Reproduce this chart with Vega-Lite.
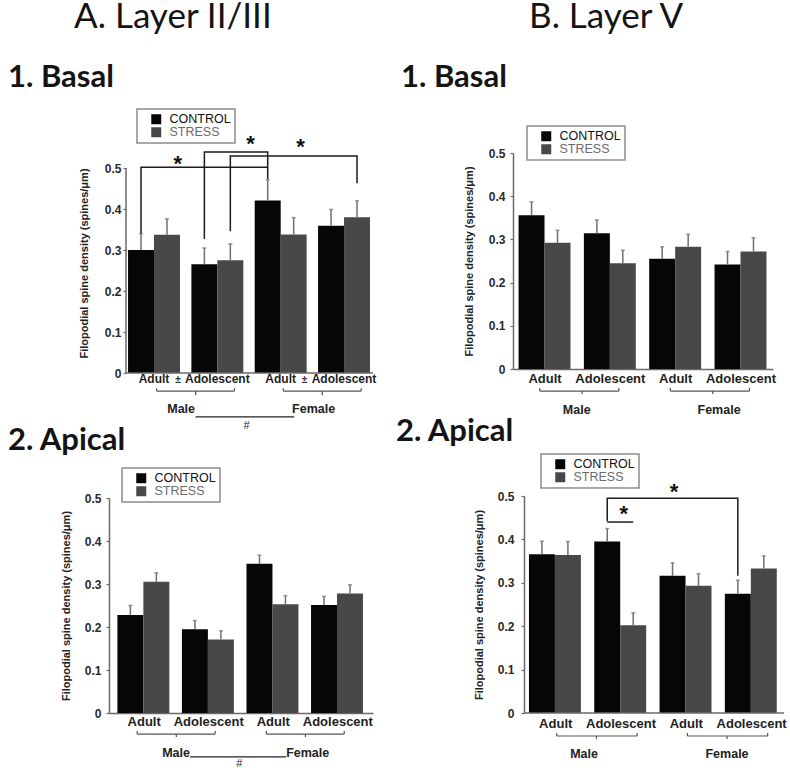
{
  "$schema": "https://vega.github.io/schema/vega-lite/v6.json",
  "padding": {"left": 8, "top": 0, "right": 0, "bottom": 0},
  "columns": 2,
  "align": "none",
  "spacing": 20,
  "resolve": {"scale": {"color": "independent"}, "legend": {"color": "independent"}},
  "datasets": {
    "a1": [
      {"group": "Male Adult", "cond": "CONTROL", "mean": 0.300, "upper": 0.340},
      {"group": "Male Adult", "cond": "STRESS", "mean": 0.337, "upper": 0.376},
      {"group": "Male Adolescent", "cond": "CONTROL", "mean": 0.265, "upper": 0.305},
      {"group": "Male Adolescent", "cond": "STRESS", "mean": 0.275, "upper": 0.315},
      {"group": "Female Adult", "cond": "CONTROL", "mean": 0.421, "upper": 0.471},
      {"group": "Female Adult", "cond": "STRESS", "mean": 0.338, "upper": 0.379},
      {"group": "Female Adolescent", "cond": "CONTROL", "mean": 0.359, "upper": 0.399},
      {"group": "Female Adolescent", "cond": "STRESS", "mean": 0.380, "upper": 0.420}
    ],
    "b1": [
      {"group": "Male Adult", "cond": "CONTROL", "mean": 0.356, "upper": 0.387},
      {"group": "Male Adult", "cond": "STRESS", "mean": 0.292, "upper": 0.321},
      {"group": "Male Adolescent", "cond": "CONTROL", "mean": 0.314, "upper": 0.345},
      {"group": "Male Adolescent", "cond": "STRESS", "mean": 0.245, "upper": 0.275},
      {"group": "Female Adult", "cond": "CONTROL", "mean": 0.255, "upper": 0.283},
      {"group": "Female Adult", "cond": "STRESS", "mean": 0.283, "upper": 0.312},
      {"group": "Female Adolescent", "cond": "CONTROL", "mean": 0.242, "upper": 0.272},
      {"group": "Female Adolescent", "cond": "STRESS", "mean": 0.272, "upper": 0.304}
    ],
    "a2": [
      {"group": "Male Adult", "cond": "CONTROL", "mean": 0.228, "upper": 0.250},
      {"group": "Male Adult", "cond": "STRESS", "mean": 0.305, "upper": 0.326},
      {"group": "Male Adolescent", "cond": "CONTROL", "mean": 0.195, "upper": 0.215},
      {"group": "Male Adolescent", "cond": "STRESS", "mean": 0.171, "upper": 0.191},
      {"group": "Female Adult", "cond": "CONTROL", "mean": 0.347, "upper": 0.367},
      {"group": "Female Adult", "cond": "STRESS", "mean": 0.253, "upper": 0.273},
      {"group": "Female Adolescent", "cond": "CONTROL", "mean": 0.251, "upper": 0.271},
      {"group": "Female Adolescent", "cond": "STRESS", "mean": 0.278, "upper": 0.298}
    ],
    "b2": [
      {"group": "Male Adult", "cond": "CONTROL", "mean": 0.366, "upper": 0.396},
      {"group": "Male Adult", "cond": "STRESS", "mean": 0.364, "upper": 0.395},
      {"group": "Male Adolescent", "cond": "CONTROL", "mean": 0.395, "upper": 0.425},
      {"group": "Male Adolescent", "cond": "STRESS", "mean": 0.202, "upper": 0.231},
      {"group": "Female Adult", "cond": "CONTROL", "mean": 0.316, "upper": 0.346},
      {"group": "Female Adult", "cond": "STRESS", "mean": 0.293, "upper": 0.321},
      {"group": "Female Adolescent", "cond": "CONTROL", "mean": 0.275, "upper": 0.306},
      {"group": "Female Adolescent", "cond": "STRESS", "mean": 0.333, "upper": 0.362}
    ],
    "a1br": [
      {"bracket": 1, "k": 1, "group": "Male Adult", "cond": "CONTROL", "level": 0.341},
      {"bracket": 1, "k": 2, "group": "Male Adult", "cond": "CONTROL", "level": 0.502},
      {"bracket": 1, "k": 3, "group": "Female Adult", "cond": "CONTROL", "level": 0.502},
      {"bracket": 2, "k": 1, "group": "Male Adolescent", "cond": "CONTROL", "level": 0.327},
      {"bracket": 2, "k": 2, "group": "Male Adolescent", "cond": "CONTROL", "level": 0.539},
      {"bracket": 2, "k": 3, "group": "Female Adult", "cond": "CONTROL", "level": 0.539},
      {"bracket": 2, "k": 4, "group": "Female Adult", "cond": "CONTROL", "level": 0.473},
      {"bracket": 3, "k": 1, "group": "Male Adolescent", "cond": "STRESS", "level": 0.346},
      {"bracket": 3, "k": 2, "group": "Male Adolescent", "cond": "STRESS", "level": 0.529},
      {"bracket": 3, "k": 3, "group": "Female Adolescent", "cond": "STRESS", "level": 0.529},
      {"bracket": 3, "k": 4, "group": "Female Adolescent", "cond": "STRESS", "level": 0.463}
    ],
    "b2br": [
      {"bracket": 1, "k": 1, "group": "Male Adolescent", "cond": "CONTROL", "level": 0.442},
      {"bracket": 1, "k": 2, "group": "Male Adolescent", "cond": "CONTROL", "level": 0.495},
      {"bracket": 1, "k": 3, "group": "Female Adolescent", "cond": "CONTROL", "level": 0.495},
      {"bracket": 1, "k": 4, "group": "Female Adolescent", "cond": "CONTROL", "level": 0.316},
      {"bracket": 2, "k": 1, "group": "Male Adolescent", "cond": "CONTROL", "level": 0.440},
      {"bracket": 2, "k": 2, "group": "Male Adolescent", "cond": "STRESS", "level": 0.440}
    ],
    "braces": [
      {"a": "Male Adult", "b": "Male Adolescent", "sex": "Male"},
      {"a": "Female Adult", "b": "Female Adolescent", "sex": "Female"}
    ],
    "yline": [{"lo": 0, "hi": 0.5}],
    "star": [{"t": "*"}],
    "male": [{"sex": "Male"}],
    "female": [{"sex": "Female"}],
    "hash": [{"sig": "#"}]
  },
  "concat": [
    {
      "title": {"text": "A. Layer II/III", "fontSize": 35, "fontWeight": "normal", "dx": -35, "offset": 27},
      "columns": 1,
      "align": "none",
      "spacing": -7,
      "resolve": {"scale": {"color": "independent"}, "legend": {"color": "independent"}},
      "concat": [
        {
          "width": 264, "height": 220,
          "title": {"text": "1. Basal", "dx": -101, "offset": 14},
          "layer": [
            {"data": {"name": "a1"}, "mark": {"type": "bar"},
             "encoding": {
               "x": {"field": "group", "type": "nominal",
                     "scale": {"domain": ["Male Adult", "Male Adolescent", "Female Adult", "Female Adolescent"], "paddingInner": 0.18, "paddingOuter": 0.174, "align": 0.864},
                     "axis": {"title": null, "domain": false, "labelExpr": "split(datum.label, ' ')[1]", "labelAngle": 0, "labelFont": "Liberation Sans", "labelFontSize": 12, "labelFontWeight": "bold", "labelColor": "#1e1e1e", "labelPadding": 0, "ticks": false, "labelOverlap": false}},
               "xOffset": {"field": "cond", "type": "nominal", "scale": {"domain": ["CONTROL", "STRESS"], "paddingInner": 0, "paddingOuter": 0}},
               "y": {"field": "mean", "type": "quantitative", "scale": {"domain": [0, 0.5366], "nice": false},
                     "axis": {"title": "Filopodial spine density (spines/μm)", "offset": -17, "values": [0, 0.1, 0.2, 0.3, 0.4, 0.5], "format": "~g", "domain": false, "labelFont": "Liberation Sans", "labelFontSize": 12, "labelFontWeight": "bold", "labelColor": "#2a2a2a", "labelPadding": 2, "tickSize": 3, "tickColor": "#6a6a6a", "tickWidth": 1.2, "titleFont": "Liberation Sans", "titleFontSize": 11, "titleFontWeight": "bold", "titleColor": "#222222", "titlePadding": 15}},
               "color": {"field": "cond", "type": "nominal", "scale": {"domain": ["CONTROL", "STRESS"], "range": ["#060606", "#484848"]},
                         "legend": {"title": null, "orient": "none", "legendX": 28, "legendY": -44, "direction": "vertical", "symbolType": "square", "symbolSize": 100, "symbolStrokeWidth": 0, "labelFont": "Liberation Sans", "labelFontSize": 12.5, "labelColor": "#111111", "labelOffset": 7, "symbolOffset": 9, "padding": 4, "rowPadding": 0, "strokeColor": "#8c8c8c", "fillColor": "#ffffff",
                                    "encode": {"labels": {"update": {"fill": {"signal": "datum.value === 'STRESS' ? '#6b6b6b' : '#111111'"}}}, "legend": {"update": {"strokeWidth": {"value": 1.5}}}}}}
             }},
            {"data": {"name": "yline"}, "mark": {"type": "rule", "color": "#6a6a6a", "strokeWidth": 1.5},
             "encoding": {"x": {"datum": "Male Adult", "type": "nominal", "bandPosition": -0.039}, "y": {"field": "lo", "type": "quantitative"}, "y2": {"field": "hi"}}},
            {"data": {"name": "yline"}, "mark": {"type": "rule", "color": "#6a6a6a", "strokeWidth": 1.5},
             "encoding": {"x": {"datum": "Male Adult", "type": "nominal", "bandPosition": -0.039}, "x2": {"datum": "Female Adolescent", "bandPosition": 1.058}, "y": {"field": "lo", "type": "quantitative"}}},
            {"data": {"name": "a1"}, "mark": {"type": "rule", "color": "#707070", "strokeWidth": 1.5},
             "encoding": {"x": {"field": "group", "type": "nominal"}, "xOffset": {"field": "cond", "type": "nominal"}, "y": {"field": "mean", "type": "quantitative"}, "y2": {"field": "upper"}}},
            {"data": {"name": "a1"}, "mark": {"type": "tick", "color": "#707070", "thickness": 1.5, "size": 4},
             "encoding": {"x": {"field": "group", "type": "nominal"}, "xOffset": {"field": "cond", "type": "nominal"}, "y": {"field": "upper", "type": "quantitative"}}},
            {"data": {"name": "a1br"}, "mark": {"type": "line", "color": "#1c1c1c", "strokeWidth": 1.5},
             "encoding": {"x": {"field": "group", "type": "nominal"}, "xOffset": {"field": "cond", "type": "nominal"}, "y": {"field": "level", "type": "quantitative"}, "detail": {"field": "bracket", "type": "nominal"}, "order": {"field": "k", "type": "quantitative"}}},
            {"data": {"name": "star"}, "mark": {"type": "text", "fontSize": 22, "fontWeight": "bold", "baseline": "alphabetic", "color": "#111111"},
             "encoding": {"text": {"field": "t"}, "x": {"datum": "Male Adult", "type": "nominal", "bandPosition": 0.96}, "y": {"datum": 0.493, "type": "quantitative"}}},
            {"data": {"name": "star"}, "mark": {"type": "text", "fontSize": 22, "fontWeight": "bold", "baseline": "alphabetic", "color": "#111111"},
             "encoding": {"text": {"field": "t"}, "x": {"datum": "Male Adolescent", "type": "nominal", "bandPosition": 1.14}, "y": {"datum": 0.541, "type": "quantitative"}}},
            {"data": {"name": "star"}, "mark": {"type": "text", "fontSize": 22, "fontWeight": "bold", "baseline": "alphabetic", "color": "#111111"},
             "encoding": {"text": {"field": "t"}, "x": {"datum": "Female Adult", "type": "nominal", "bandPosition": 0.88}, "y": {"datum": 0.534, "type": "quantitative"}}},
            {"data": {"values": [{"group": "Male Adult", "t": "±"}, {"group": "Female Adult", "t": "±"}]}, "mark": {"type": "text", "fontSize": 10, "fontWeight": "bold", "baseline": "alphabetic", "color": "#333333"},
             "encoding": {"text": {"field": "t"}, "x": {"field": "group", "type": "nominal", "bandPosition": 0.96}, "y": {"datum": -0.0256, "type": "quantitative"}}},
            {"data": {"name": "braces"}, "mark": {"type": "rule", "color": "#555555", "strokeWidth": 1.2},
             "encoding": {"x": {"field": "a", "type": "nominal", "bandPosition": 0.55}, "x2": {"field": "b", "bandPosition": 0.83}, "y": {"datum": -0.044, "type": "quantitative"}}},
            {"data": {"name": "braces"}, "mark": {"type": "rule", "color": "#555555", "strokeWidth": 1.2},
             "encoding": {"x": {"field": "a", "type": "nominal", "bandPosition": 0.55}, "y": {"datum": -0.044, "type": "quantitative"}, "y2": {"datum": -0.037}}},
            {"data": {"name": "braces"}, "mark": {"type": "rule", "color": "#555555", "strokeWidth": 1.2},
             "encoding": {"x": {"field": "b", "type": "nominal", "bandPosition": 0.83}, "y": {"datum": -0.044, "type": "quantitative"}, "y2": {"datum": -0.037}}},
            {"data": {"name": "braces"}, "mark": {"type": "rule", "color": "#555555", "strokeWidth": 1.2},
             "encoding": {"x": {"field": "a", "type": "nominal", "bandPosition": 1.3}, "y": {"datum": -0.044, "type": "quantitative"}, "y2": {"datum": -0.054}}},
            {"data": {"name": "male"}, "mark": {"type": "text", "align": "right", "baseline": "alphabetic", "fontSize": 12.5, "fontWeight": "bold", "color": "#222222"},
             "encoding": {"text": {"field": "sex"}, "x": {"datum": "Male Adolescent", "type": "nominal", "bandPosition": 0.07}, "y": {"datum": -0.0976, "type": "quantitative"}}},
            {"data": {"name": "female"}, "mark": {"type": "text", "align": "left", "baseline": "alphabetic", "fontSize": 12.5, "fontWeight": "bold", "color": "#222222"},
             "encoding": {"text": {"field": "sex"}, "x": {"datum": "Female Adult", "type": "nominal", "bandPosition": 0.72}, "y": {"datum": -0.0976, "type": "quantitative"}}},
            {"data": {"name": "hash"}, "mark": {"type": "rule", "color": "#222222", "strokeWidth": 1.2},
             "encoding": {"x": {"datum": "Male Adolescent", "type": "nominal", "bandPosition": 0.08}, "x2": {"datum": "Female Adult", "bandPosition": 0.76}, "y": {"datum": -0.107, "type": "quantitative"}}},
            {"data": {"name": "hash"}, "mark": {"type": "text", "baseline": "alphabetic", "fontSize": 11, "color": "#222222"},
             "encoding": {"text": {"field": "sig"}, "x": {"datum": "Male Adolescent", "type": "nominal", "bandPosition": 1.06}, "y": {"datum": -0.137, "type": "quantitative"}}}
          ]
        },
        {
          "width": 264, "height": 215,
          "title": {"text": "2. Apical", "dx": -101, "offset": 10},
          "layer": [
            {"data": {"name": "a2"}, "mark": {"type": "bar"},
             "encoding": {
               "x": {"field": "group", "type": "nominal",
                     "scale": {"domain": ["Male Adult", "Male Adolescent", "Female Adult", "Female Adolescent"], "paddingInner": 0.17, "paddingOuter": 0.13},
                     "axis": {"title": null, "labelExpr": "split(datum.label, ' ')[1]", "labelAngle": 0, "labelFont": "Liberation Sans", "labelFontSize": 13, "labelFontWeight": "bold", "labelColor": "#1e1e1e", "labelPadding": 2, "ticks": false, "domainColor": "#6a6a6a", "domainWidth": 1.5, "labelOverlap": false}},
               "xOffset": {"field": "cond", "type": "nominal", "scale": {"domain": ["CONTROL", "STRESS"], "paddingInner": 0, "paddingOuter": 0}},
               "y": {"field": "mean", "type": "quantitative", "scale": {"domain": [0, 0.5], "nice": false},
                     "axis": {"title": "Filopodial spine density (spines/μm)", "values": [0, 0.1, 0.2, 0.3, 0.4, 0.5], "format": "~g", "labelFont": "Liberation Sans", "labelFontSize": 12, "labelFontWeight": "bold", "labelColor": "#2a2a2a", "labelPadding": 5, "tickSize": 3, "tickColor": "#6a6a6a", "tickWidth": 1.2, "domainColor": "#6a6a6a", "domainWidth": 1.5, "titleFont": "Liberation Sans", "titleFontSize": 11, "titleFontWeight": "bold", "titleColor": "#222222", "titlePadding": 13}},
               "color": {"field": "cond", "type": "nominal", "scale": {"domain": ["CONTROL", "STRESS"], "range": ["#060606", "#484848"]},
                         "legend": {"title": null, "orient": "none", "legendX": 13, "legendY": -30, "direction": "vertical", "symbolType": "square", "symbolSize": 100, "symbolStrokeWidth": 0, "labelFont": "Liberation Sans", "labelFontSize": 12.5, "labelColor": "#111111", "labelOffset": 7, "symbolOffset": 9, "padding": 4, "rowPadding": 0, "strokeColor": "#8c8c8c", "fillColor": "#ffffff",
                                    "encode": {"labels": {"update": {"fill": {"signal": "datum.value === 'STRESS' ? '#6b6b6b' : '#111111'"}}}, "legend": {"update": {"strokeWidth": {"value": 1.5}}}}}}
             }},
            {"data": {"name": "a2"}, "mark": {"type": "rule", "color": "#707070", "strokeWidth": 1.5},
             "encoding": {"x": {"field": "group", "type": "nominal"}, "xOffset": {"field": "cond", "type": "nominal"}, "y": {"field": "mean", "type": "quantitative"}, "y2": {"field": "upper"}}},
            {"data": {"name": "a2"}, "mark": {"type": "tick", "color": "#707070", "thickness": 1.5, "size": 4},
             "encoding": {"x": {"field": "group", "type": "nominal"}, "xOffset": {"field": "cond", "type": "nominal"}, "y": {"field": "upper", "type": "quantitative"}}},
            {"data": {"name": "braces"}, "mark": {"type": "rule", "color": "#555555", "strokeWidth": 1.2},
             "encoding": {"x": {"field": "a", "type": "nominal", "bandPosition": 0.37}, "x2": {"field": "b", "bandPosition": 0.62}, "y": {"datum": -0.049, "type": "quantitative"}}},
            {"data": {"name": "braces"}, "mark": {"type": "rule", "color": "#555555", "strokeWidth": 1.2},
             "encoding": {"x": {"field": "a", "type": "nominal", "bandPosition": 0.37}, "y": {"datum": -0.049, "type": "quantitative"}, "y2": {"datum": -0.042}}},
            {"data": {"name": "braces"}, "mark": {"type": "rule", "color": "#555555", "strokeWidth": 1.2},
             "encoding": {"x": {"field": "b", "type": "nominal", "bandPosition": 0.62}, "y": {"datum": -0.049, "type": "quantitative"}, "y2": {"datum": -0.042}}},
            {"data": {"name": "braces"}, "mark": {"type": "rule", "color": "#555555", "strokeWidth": 1.2},
             "encoding": {"x": {"field": "a", "type": "nominal", "bandPosition": 1.1}, "y": {"datum": -0.049, "type": "quantitative"}, "y2": {"datum": -0.056}}},
            {"data": {"name": "male"}, "mark": {"type": "text", "align": "right", "baseline": "alphabetic", "fontSize": 12.5, "fontWeight": "bold", "color": "#222222"},
             "encoding": {"text": {"field": "sex"}, "x": {"datum": "Male Adolescent", "type": "nominal", "bandPosition": 0.15}, "y": {"datum": -0.102, "type": "quantitative"}}},
            {"data": {"name": "female"}, "mark": {"type": "text", "align": "left", "baseline": "alphabetic", "fontSize": 12.5, "fontWeight": "bold", "color": "#222222"},
             "encoding": {"text": {"field": "sex"}, "x": {"datum": "Female Adult", "type": "nominal", "bandPosition": 0.74}, "y": {"datum": -0.102, "type": "quantitative"}}},
            {"data": {"name": "hash"}, "mark": {"type": "rule", "color": "#222222", "strokeWidth": 1.2},
             "encoding": {"x": {"datum": "Male Adolescent", "type": "nominal", "bandPosition": 0.15}, "x2": {"datum": "Female Adult", "bandPosition": 0.74}, "y": {"datum": -0.102, "type": "quantitative"}}},
            {"data": {"name": "hash"}, "mark": {"type": "text", "baseline": "alphabetic", "fontSize": 11, "color": "#222222"},
             "encoding": {"text": {"field": "sig"}, "x": {"datum": "Male Adolescent", "type": "nominal", "bandPosition": 1.07}, "y": {"datum": -0.1256, "type": "quantitative"}}}
          ]
        }
      ]
    },
    {
      "title": {"text": "B. Layer V", "fontSize": 35, "fontWeight": "normal", "dx": 16, "offset": 27},
      "columns": 1,
      "align": "none",
      "spacing": -1,
      "resolve": {"scale": {"color": "independent"}, "legend": {"color": "independent"}},
      "concat": [
        {
          "width": 260, "height": 216,
          "title": {"text": "1. Basal", "dx": -112, "offset": 31},
          "layer": [
            {"data": {"name": "b1"}, "mark": {"type": "bar"},
             "encoding": {
               "x": {"field": "group", "type": "nominal",
                     "scale": {"domain": ["Male Adult", "Male Adolescent", "Female Adult", "Female Adolescent"], "paddingInner": 0.19, "paddingOuter": 0.085},
                     "axis": {"title": null, "labelExpr": "split(datum.label, ' ')[1]", "labelAngle": 0, "labelFont": "Liberation Sans", "labelFontSize": 13, "labelFontWeight": "bold", "labelColor": "#1e1e1e", "labelPadding": 3, "ticks": false, "domainColor": "#6a6a6a", "domainWidth": 1.5, "labelOverlap": false}},
               "xOffset": {"field": "cond", "type": "nominal", "scale": {"domain": ["CONTROL", "STRESS"], "paddingInner": 0, "paddingOuter": 0}},
               "y": {"field": "mean", "type": "quantitative", "scale": {"domain": [0, 0.5], "nice": false},
                     "axis": {"title": "Filopodial spine density (spines/μm)", "values": [0, 0.1, 0.2, 0.3, 0.4, 0.5], "format": "~g", "labelFont": "Liberation Sans", "labelFontSize": 12, "labelFontWeight": "bold", "labelColor": "#2a2a2a", "labelPadding": 5, "tickSize": 3, "tickColor": "#6a6a6a", "tickWidth": 1.2, "domainColor": "#6a6a6a", "domainWidth": 1.5, "titleFont": "Liberation Sans", "titleFontSize": 11, "titleFontWeight": "bold", "titleColor": "#222222", "titlePadding": 14}},
               "color": {"field": "cond", "type": "nominal", "scale": {"domain": ["CONTROL", "STRESS"], "range": ["#060606", "#484848"]},
                         "legend": {"title": null, "orient": "none", "legendX": 14, "legendY": -27, "direction": "vertical", "symbolType": "square", "symbolSize": 100, "symbolStrokeWidth": 0, "labelFont": "Liberation Sans", "labelFontSize": 12.5, "labelColor": "#111111", "labelOffset": 7, "symbolOffset": 9, "padding": 4, "rowPadding": 0, "strokeColor": "#8c8c8c", "fillColor": "#ffffff",
                                    "encode": {"labels": {"update": {"fill": {"signal": "datum.value === 'STRESS' ? '#6b6b6b' : '#111111'"}}}, "legend": {"update": {"strokeWidth": {"value": 1.5}}}}}}
             }},
            {"data": {"name": "b1"}, "mark": {"type": "rule", "color": "#707070", "strokeWidth": 1.5},
             "encoding": {"x": {"field": "group", "type": "nominal"}, "xOffset": {"field": "cond", "type": "nominal"}, "y": {"field": "mean", "type": "quantitative"}, "y2": {"field": "upper"}}},
            {"data": {"name": "b1"}, "mark": {"type": "tick", "color": "#707070", "thickness": 1.5, "size": 4},
             "encoding": {"x": {"field": "group", "type": "nominal"}, "xOffset": {"field": "cond", "type": "nominal"}, "y": {"field": "upper", "type": "quantitative"}}},
            {"data": {"name": "braces"}, "mark": {"type": "rule", "color": "#555555", "strokeWidth": 1.2},
             "encoding": {"x": {"field": "a", "type": "nominal", "bandPosition": 0.4}, "x2": {"field": "b", "bandPosition": 0.66}, "y": {"datum": -0.051, "type": "quantitative"}}},
            {"data": {"name": "braces"}, "mark": {"type": "rule", "color": "#555555", "strokeWidth": 1.2},
             "encoding": {"x": {"field": "a", "type": "nominal", "bandPosition": 0.4}, "y": {"datum": -0.051, "type": "quantitative"}, "y2": {"datum": -0.044}}},
            {"data": {"name": "braces"}, "mark": {"type": "rule", "color": "#555555", "strokeWidth": 1.2},
             "encoding": {"x": {"field": "b", "type": "nominal", "bandPosition": 0.66}, "y": {"datum": -0.051, "type": "quantitative"}, "y2": {"datum": -0.044}}},
            {"data": {"name": "braces"}, "mark": {"type": "rule", "color": "#555555", "strokeWidth": 1.2},
             "encoding": {"x": {"field": "a", "type": "nominal", "bandPosition": 1.2}, "y": {"datum": -0.051, "type": "quantitative"}, "y2": {"datum": -0.058}}},
            {"data": {"name": "male"}, "mark": {"type": "text", "baseline": "alphabetic", "fontSize": 12.5, "fontWeight": "bold", "color": "#222222"},
             "encoding": {"text": {"field": "sex"}, "x": {"datum": "Male Adult", "type": "nominal", "bandPosition": 1.1}, "y": {"datum": -0.104, "type": "quantitative"}}},
            {"data": {"name": "female"}, "mark": {"type": "text", "baseline": "alphabetic", "fontSize": 12.5, "fontWeight": "bold", "color": "#222222"},
             "encoding": {"text": {"field": "sex"}, "x": {"datum": "Female Adult", "type": "nominal", "bandPosition": 1.32}, "y": {"datum": -0.104, "type": "quantitative"}}}
          ]
        },
        {
          "width": 271, "height": 217,
          "title": {"text": "2. Apical", "dx": -117, "offset": 5},
          "layer": [
            {"data": {"name": "b2"}, "mark": {"type": "bar"},
             "encoding": {
               "x": {"field": "group", "type": "nominal",
                     "scale": {"domain": ["Male Adult", "Male Adolescent", "Female Adult", "Female Adolescent"], "paddingInner": 0.18, "paddingOuter": 0.165, "align": 0.74},
                     "axis": {"title": null, "domain": false, "labelExpr": "split(datum.label, ' ')[1]", "labelAngle": 0, "labelFont": "Liberation Sans", "labelFontSize": 13, "labelFontWeight": "bold", "labelColor": "#1e1e1e", "labelPadding": 4, "ticks": false, "labelOverlap": false}},
               "xOffset": {"field": "cond", "type": "nominal", "scale": {"domain": ["CONTROL", "STRESS"], "paddingInner": 0, "paddingOuter": 0}},
               "y": {"field": "mean", "type": "quantitative", "scale": {"domain": [0, 0.5], "nice": false},
                     "axis": {"title": "Filopodial spine density (spines/μm)", "offset": -11, "values": [0, 0.1, 0.2, 0.3, 0.4, 0.5], "format": "~g", "labelFont": "Liberation Sans", "labelFontSize": 12, "labelFontWeight": "bold", "labelColor": "#2a2a2a", "labelPadding": 7, "tickSize": 3, "tickColor": "#6a6a6a", "tickWidth": 1.2, "domainColor": "#6a6a6a", "domainWidth": 1.5, "titleFont": "Liberation Sans", "titleFontSize": 11, "titleFontWeight": "bold", "titleColor": "#222222", "titlePadding": 13}},
               "color": {"field": "cond", "type": "nominal", "scale": {"domain": ["CONTROL", "STRESS"], "range": ["#060606", "#484848"]},
                         "legend": {"title": null, "orient": "none", "legendX": 28, "legendY": -42, "direction": "vertical", "symbolType": "square", "symbolSize": 100, "symbolStrokeWidth": 0, "labelFont": "Liberation Sans", "labelFontSize": 12.5, "labelColor": "#111111", "labelOffset": 7, "symbolOffset": 9, "padding": 4, "rowPadding": 0, "strokeColor": "#8c8c8c", "fillColor": "#ffffff",
                                    "encode": {"labels": {"update": {"fill": {"signal": "datum.value === 'STRESS' ? '#6b6b6b' : '#111111'"}}}, "legend": {"update": {"strokeWidth": {"value": 1.5}}}}}}
             }},
            {"data": {"name": "yline"}, "mark": {"type": "rule", "color": "#6a6a6a", "strokeWidth": 1.5},
             "encoding": {"x": {"datum": "Male Adult", "type": "nominal", "bandPosition": -0.092}, "x2": {"datum": "Female Adolescent", "bandPosition": 1.105}, "y": {"field": "lo", "type": "quantitative"}}},
            {"data": {"name": "b2"}, "mark": {"type": "rule", "color": "#707070", "strokeWidth": 1.5},
             "encoding": {"x": {"field": "group", "type": "nominal"}, "xOffset": {"field": "cond", "type": "nominal"}, "y": {"field": "mean", "type": "quantitative"}, "y2": {"field": "upper"}}},
            {"data": {"name": "b2"}, "mark": {"type": "tick", "color": "#707070", "thickness": 1.5, "size": 4},
             "encoding": {"x": {"field": "group", "type": "nominal"}, "xOffset": {"field": "cond", "type": "nominal"}, "y": {"field": "upper", "type": "quantitative"}}},
            {"data": {"name": "b2br"}, "mark": {"type": "line", "color": "#1c1c1c", "strokeWidth": 1.5},
             "encoding": {"x": {"field": "group", "type": "nominal"}, "xOffset": {"field": "cond", "type": "nominal"}, "y": {"field": "level", "type": "quantitative"}, "detail": {"field": "bracket", "type": "nominal"}, "order": {"field": "k", "type": "quantitative"}}},
            {"data": {"name": "star"}, "mark": {"type": "text", "fontSize": 22, "fontWeight": "bold", "baseline": "alphabetic", "color": "#111111"},
             "encoding": {"text": {"field": "t"}, "x": {"datum": "Female Adult", "type": "nominal", "bandPosition": 0.27}, "y": {"datum": 0.4935, "type": "quantitative"}}},
            {"data": {"name": "star"}, "mark": {"type": "text", "fontSize": 22, "fontWeight": "bold", "baseline": "alphabetic", "color": "#111111"},
             "encoding": {"text": {"field": "t"}, "x": {"datum": "Male Adolescent", "type": "nominal", "bandPosition": 0.55}, "y": {"datum": 0.443, "type": "quantitative"}}},
            {"data": {"name": "braces"}, "mark": {"type": "rule", "color": "#555555", "strokeWidth": 1.2},
             "encoding": {"x": {"field": "a", "type": "nominal", "bandPosition": 0.52}, "x2": {"field": "b", "bandPosition": 0.8}, "y": {"datum": -0.053, "type": "quantitative"}}},
            {"data": {"name": "braces"}, "mark": {"type": "rule", "color": "#555555", "strokeWidth": 1.2},
             "encoding": {"x": {"field": "a", "type": "nominal", "bandPosition": 0.52}, "y": {"datum": -0.053, "type": "quantitative"}, "y2": {"datum": -0.046}}},
            {"data": {"name": "braces"}, "mark": {"type": "rule", "color": "#555555", "strokeWidth": 1.2},
             "encoding": {"x": {"field": "b", "type": "nominal", "bandPosition": 0.8}, "y": {"datum": -0.053, "type": "quantitative"}, "y2": {"datum": -0.046}}},
            {"data": {"name": "braces"}, "mark": {"type": "rule", "color": "#555555", "strokeWidth": 1.2},
             "encoding": {"x": {"field": "a", "type": "nominal", "bandPosition": 1.26}, "y": {"datum": -0.053, "type": "quantitative"}, "y2": {"datum": -0.06}}},
            {"data": {"name": "male"}, "mark": {"type": "text", "baseline": "alphabetic", "fontSize": 12.5, "fontWeight": "bold", "color": "#222222"},
             "encoding": {"text": {"field": "sex"}, "x": {"datum": "Male Adult", "type": "nominal", "bandPosition": 1.03}, "y": {"datum": -0.104, "type": "quantitative"}}},
            {"data": {"name": "female"}, "mark": {"type": "text", "baseline": "alphabetic", "fontSize": 12.5, "fontWeight": "bold", "color": "#222222"},
             "encoding": {"text": {"field": "sex"}, "x": {"datum": "Female Adult", "type": "nominal", "bandPosition": 1.26}, "y": {"datum": -0.104, "type": "quantitative"}}}
          ]
        }
      ]
    }
  ],
  "config": {
    "view": {"stroke": null},
    "font": "Liberation Sans",
    "axis": {"grid": false},
    "title": {"font": "Lato", "fontSize": 31, "fontWeight": "bold", "color": "#141414", "anchor": "start", "frame": "group"}
  }
}
